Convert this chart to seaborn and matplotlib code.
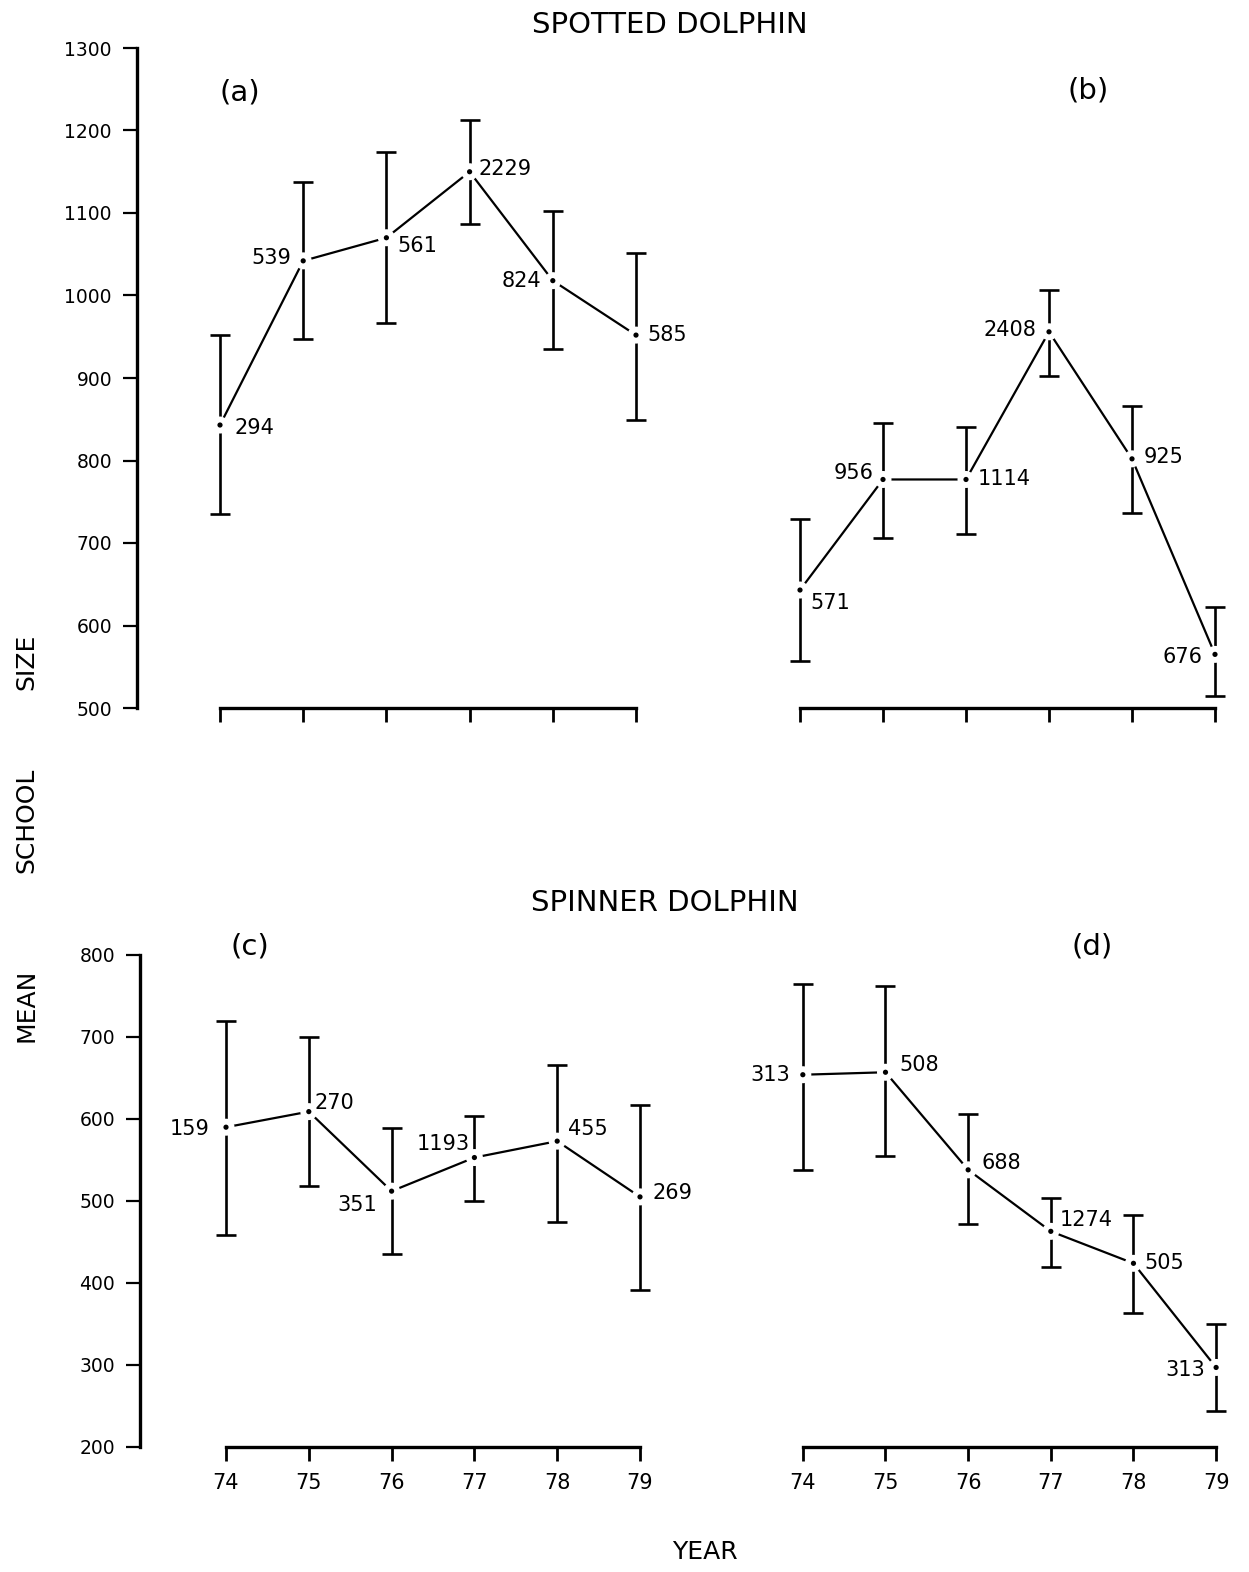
import numpy as np
import pandas as pd
import matplotlib
matplotlib.use("Agg")
import matplotlib.pyplot as plt
import seaborn as sns

# Years of the survey (x axis)
years = [74, 75, 76, 77, 78, 79]

# Spotted dolphin, panel (a)
spotted_a_mean = [843, 1042, 1070, 1150, 1018, 952]
spotted_a_upper = [952, 1138, 1174, 1213, 1103, 1051]
spotted_a_lower = [735, 947, 967, 1087, 935, 849]
spotted_a_n = [294, 539, 561, 2229, 824, 585]

# Spotted dolphin, panel (b)
spotted_b_mean = [643, 777, 777, 956, 802, 565]
spotted_b_upper = [729, 846, 841, 1007, 866, 622]
spotted_b_lower = [557, 706, 711, 903, 736, 514]
spotted_b_n = [571, 956, 1114, 2408, 925, 676]

# Spinner dolphin, panel (c)
spinner_c_mean = [590, 609, 512, 553, 573, 505]
spinner_c_upper = [719, 700, 589, 604, 666, 617]
spinner_c_lower = [459, 518, 435, 500, 474, 392]
spinner_c_n = [159, 270, 351, 1193, 455, 269]

# Spinner dolphin, panel (d)
spinner_d_mean = [654, 657, 538, 463, 424, 297]
spinner_d_upper = [765, 762, 606, 504, 483, 350]
spinner_d_lower = [538, 555, 472, 420, 364, 244]
spinner_d_n = [313, 508, 688, 1274, 505, 313]

spotted_yticks = [500, 600, 700, 800, 900, 1000, 1100, 1200, 1300]
spinner_yticks = [200, 300, 400, 500, 600, 700, 800]

# label offsets (pixels) for the sample-size numbers, per panel
label_offsets = {
    "a": [(14, -3), (-12, 3), (11, -8), (9, 3), (-12, 0), (11, 0)],
    "b": [(10, -13), (-9, 6), (12, 0), (-13, 2), (12, 2), (-12, -3)],
    "c": [(-16, -2), (6, 9), (-14, -14), (-5, 14), (11, 12), (12, 4)],
    "d": [(-13, 0), (14, 7), (13, 7), (9, 11), (11, 0), (-11, -3)],
}

sns.set_theme(style="white")
plt.rcParams["font.family"] = ["DejaVu Sans"]
plt.rcParams["text.color"] = "black"
plt.rcParams["xtick.color"] = "black"
plt.rcParams["ytick.color"] = "black"

W, H = 1249, 1572
fig = plt.figure(figsize=(W / 100, H / 100), dpi=100)


def px_axes(left, right, top, bottom):
    return fig.add_axes([left / W, 1 - bottom / H, (right - left) / W, (bottom - top) / H])


def draw_panel(ax, mean, upper, lower, n, offsets, ylim, yticks, show_y, show_xlabels):
    df = pd.DataFrame({"year": years, "mean": mean, "upper": upper,
                       "lower": lower, "n": n})
    err = np.vstack([df["mean"] - df["lower"], df["upper"] - df["mean"]])
    ax.errorbar(df["year"], df["mean"], yerr=err, fmt="none", ecolor="black",
                elinewidth=1.9, capsize=7, capthick=1.9, zorder=2)
    sns.lineplot(data=df, x="year", y="mean", color="black", linewidth=1.6,
                 ax=ax, zorder=3)
    # white halo around each point, then the small dot
    sns.scatterplot(data=df, x="year", y="mean", color="white", s=150,
                    edgecolor="none", ax=ax, zorder=4)
    sns.scatterplot(data=df, x="year", y="mean", color="black", s=14,
                    edgecolor="none", ax=ax, zorder=5)
    for (x, y, cnt), (dx, dy) in zip(zip(years, mean, n), offsets):
        ha = "left" if dx > 0 else "right"
        ax.annotate(str(cnt), (x, y), xytext=(dx * 0.72, dy * 0.72),
                    textcoords="offset points", ha=ha, va="center",
                    fontsize=15, color="black", zorder=6)

    ax.set_ylim(*ylim)
    ax.set_xlabel("")
    ax.set_ylabel("")
    ax.patch.set_alpha(0)
    for s in ["top", "right"]:
        ax.spines[s].set_visible(False)
    ax.spines["bottom"].set_bounds(years[0], years[-1])
    ax.spines["bottom"].set_linewidth(2.4)
    ax.spines["bottom"].set_color("black")
    ax.set_xticks(years, labels=[str(y) for y in years], fontsize=15)
    ax.tick_params(axis="x", direction="out", length=10, width=2.0,
                   color="black", pad=9,
                   labelbottom=show_xlabels, bottom=True)
    if show_y:
        ax.spines["left"].set_linewidth(2.4)
        ax.spines["left"].set_color("black")
        ax.set_yticks(yticks, labels=[str(t) for t in yticks], fontsize=13.5)
        ax.tick_params(axis="y", direction="out", length=10, width=1.6,
                       color="black", pad=8, left=True)
    else:
        ax.spines["left"].set_visible(False)
        ax.set_yticks([])


# Top row (spotted dolphin)
ax_a = px_axes(137, 660, 48, 708)
ax_a.set_xlim(74 - 83 / 83.2, 79 + 24 / 83.2)
draw_panel(ax_a, spotted_a_mean, spotted_a_upper, spotted_a_lower, spotted_a_n,
           label_offsets["a"], (500, 1300), spotted_yticks, True, False)

ax_b = px_axes(760, 1245, 48, 708)
ax_b.set_xlim(74 - 40 / 83, 79 + 30 / 83)
draw_panel(ax_b, spotted_b_mean, spotted_b_upper, spotted_b_lower, spotted_b_n,
           label_offsets["b"], (500, 1300), spotted_yticks, False, False)

# Bottom row (spinner dolphin)
ax_c = px_axes(140, 665, 955, 1447)
ax_c.set_xlim(74 - 86 / 82.8, 79 + 25 / 82.8)
draw_panel(ax_c, spinner_c_mean, spinner_c_upper, spinner_c_lower, spinner_c_n,
           label_offsets["c"], (200, 800), spinner_yticks, True, True)

ax_d = px_axes(763, 1245, 955, 1447)
ax_d.set_xlim(74 - 40 / 83, 79 + 29 / 83)
draw_panel(ax_d, spinner_d_mean, spinner_d_upper, spinner_d_lower, spinner_d_n,
           label_offsets["d"], (200, 800), spinner_yticks, False, True)

# Titles and labels
fig.text(670 / W, 1 - 25 / H, "SPOTTED DOLPHIN", ha="center", va="center", fontsize=21)
fig.text(665 / W, 1 - 903 / H, "SPINNER DOLPHIN", ha="center", va="center", fontsize=21)
fig.text(705 / W, 1 - 1552 / H, "YEAR", ha="center", va="center", fontsize=18)
for word, yc in [("SIZE", 662), ("SCHOOL", 820), ("MEAN", 1005)]:
    fig.text(26 / W, 1 - yc / H, word, rotation=90, ha="center", va="center",
             fontsize=18)

for lab, (x, y) in zip(["(a)", "(b)", "(c)", "(d)"],
                       [(240, 93), (1088, 90), (250, 946), (1092, 946)]):
    fig.text(x / W, 1 - y / H, lab, ha="center", va="center", fontsize=21)

fig.savefig("out.png", dpi=100, facecolor="white")
